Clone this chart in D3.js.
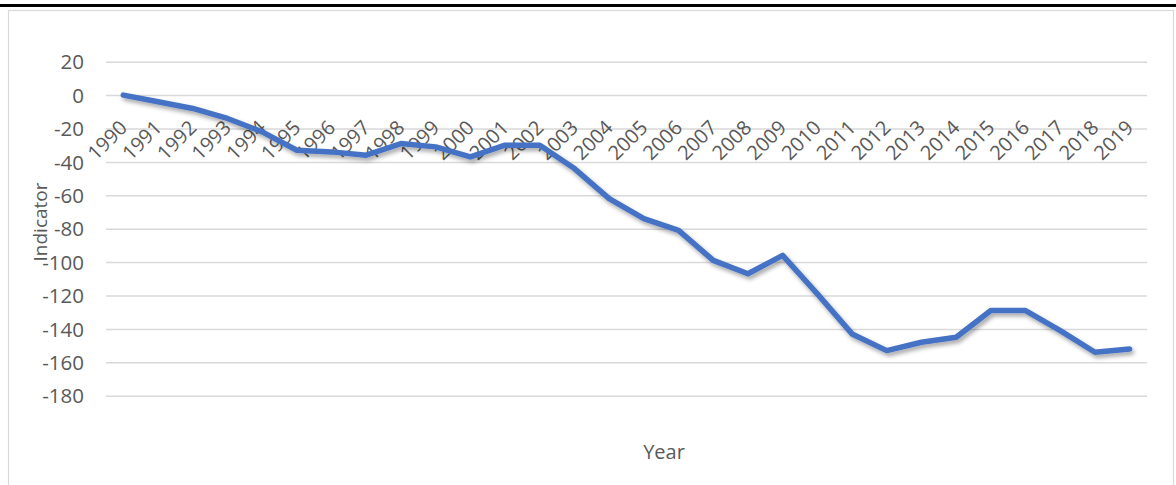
<!DOCTYPE html>
<html>
<head>
<meta charset="utf-8">
<script src="https://cdn.jsdelivr.net/npm/d3@7/dist/d3.min.js"></script>
<style>
  html, body { margin: 0; padding: 0; background: #fff; }
  svg { display: block; }
  text { font-family: "Open Sans", "Noto Sans", sans-serif; fill: #595959; }
</style>
</head>
<body>
<svg id="chart" width="1176" height="485"></svg>
<script>
const years = [1990,1991,1992,1993,1994,1995,1996,1997,1998,1999,2000,2001,2002,2003,2004,2005,2006,2007,2008,2009,2010,2011,2012,2013,2014,2015,2016,2017,2018,2019];
const indicator = [0,-4,-8,-14,-22,-33,-34,-36,-29,-31,-37,-30,-30,-44,-62,-74,-81,-99,-107,-96,-119,-143,-153,-148,-145,-129,-129,-141,-154,-152];
const yTicks = [20,0,-20,-40,-60,-80,-100,-120,-140,-160,-180];
const xTitle = "Year";
const yTitle = "Indicator";

const svg = d3.select("#chart");
const W = 1176, H = 485;

// top rule and chart frame
svg.append("rect").attr("x", 0).attr("y", 4).attr("width", W).attr("height", 3).attr("fill", "#000");
svg.append("rect").attr("x", 8.5).attr("y", 10.5).attr("width", 1165).attr("height", 490)
  .attr("fill", "none").attr("stroke", "#d9d9d9").attr("stroke-width", 1.2);

const plot = { left: 106, right: 1147, top: 61.7, bottom: 395.7 };

const x = d3.scaleBand().domain(years).range([plot.left, plot.right]);
const y = d3.scaleLinear().domain([-180, 20]).range([plot.bottom, plot.top]);

// gridlines via axis
const gridAxis = d3.axisLeft(y).tickValues(yTicks).tickSize(-(plot.right - plot.left)).tickFormat("");
const grid = svg.append("g").attr("transform", `translate(${plot.left},0)`).call(gridAxis);
grid.select(".domain").remove();
grid.selectAll(".tick line").attr("stroke", "#d9d9d9").attr("stroke-width", 1.5);

// y tick labels
const yAxis = d3.axisLeft(y).tickValues(yTicks).tickSize(0).tickPadding(0).tickFormat(d => String(d));
const ya = svg.append("g").attr("transform", `translate(84,0)`).call(yAxis);
ya.select(".domain").remove();
ya.selectAll(".tick text").attr("font-size", 20.5).attr("fill", "#595959")
  .attr("font-family", '"Open Sans", sans-serif').attr("dy", "0.35em").attr("text-anchor", "end");

// x category labels (rotated), crossing at 0
const xAxis = d3.axisBottom(x).tickSize(0).tickPadding(0);
const xa = svg.append("g").attr("transform", `translate(0,${y(0)})`).call(xAxis);
xa.select(".domain").remove();
xa.selectAll(".tick text")
  .attr("font-size", 20).attr("fill", "#595959").attr("font-family", '"Open Sans", sans-serif')
  .attr("text-anchor", "end").attr("dy", 0).attr("y", 0)
  .attr("transform", `translate(5,${129 - y(0)}) rotate(-45)`);

// shadow filter
const defs = svg.append("defs");
const f = defs.append("filter").attr("id", "shadow").attr("x", "-10%").attr("y", "-10%").attr("width", "120%").attr("height", "130%");
f.append("feDropShadow").attr("dx", 2).attr("dy", 3).attr("stdDeviation", 2).attr("flood-color", "#000").attr("flood-opacity", 0.35);

const line = d3.line().x((d, i) => x(years[i]) + x.bandwidth() / 2).y(d => y(d));
svg.append("path").datum(indicator).attr("d", line)
  .attr("fill", "none").attr("stroke", "#4472C4").attr("stroke-width", 5.5)
  .attr("stroke-linejoin", "round").attr("stroke-linecap", "round")
  .attr("filter", "url(#shadow)");

// titles
svg.append("text").attr("x", 664).attr("y", 459).attr("text-anchor", "middle")
  .attr("font-size", 20).text(xTitle);
svg.append("text").attr("transform", "translate(47,222) rotate(-90)").attr("text-anchor", "middle")
  .attr("font-size", 19).text(yTitle);
</script>
</body>
</html>
